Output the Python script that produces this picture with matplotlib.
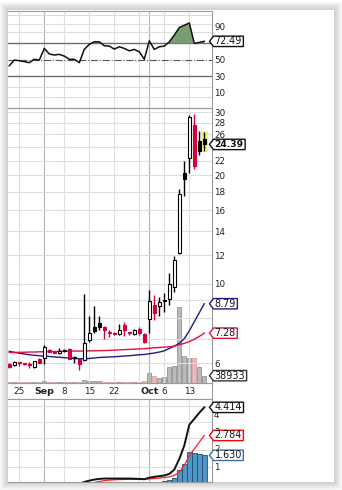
import matplotlib
matplotlib.use("Agg")
import matplotlib.pyplot as plt
import matplotlib.patches as mpatches
from matplotlib.transforms import IdentityTransform
import numpy as np

W, H = 342, 490

# ---------------- data ----------------
date_ticks = [2, 7, 11, 16, 21, 28, 31, 36]
date_labels = ['25', 'Sep', '8', '15', '22', 'Oct', '6', '13']
grid_days = [2, 7, 11, 16, 21, 26, 28, 31, 36]
month_days = [7, 28]

opens = [5.98, 5.94, 6.03, 6.00, 5.97, 5.86, 6.17, 6.20, 6.55, 6.47,
         6.42, 6.50, 6.58, 6.20, 6.17, 6.13, 6.95, 7.55, 7.78, 7.57,
         7.35, 7.30, 7.25, 7.68, 7.30, 7.25, 7.50, 7.25, 7.95, 8.70,
         8.65, 9.00, 9.05, 9.80, 12.20, 20.30, 22.30, 27.60, 25.00, 25.30]
highs = [6.02, 6.10, 6.05, 6.02, 6.05, 6.10, 6.19, 6.75, 6.56, 6.48,
         6.60, 6.56, 6.60, 6.30, 6.18, 9.38, 8.10, 8.65, 8.10, 7.60,
         7.45, 7.35, 7.70, 7.80, 7.35, 7.50, 7.55, 7.30, 9.60, 9.30,
         9.20, 9.40, 10.70, 11.95, 18.30, 21.90, 29.40, 29.70, 26.60, 26.40]
lows = [5.84, 5.90, 5.88, 5.95, 5.82, 5.83, 6.00, 5.98, 6.45, 6.42,
        6.35, 6.45, 6.15, 6.00, 5.76, 6.10, 6.90, 7.30, 7.45, 7.02,
        7.10, 7.20, 7.20, 7.15, 7.20, 7.20, 7.20, 6.85, 7.30, 7.90,
        8.14, 8.35, 8.70, 9.50, 12.10, 17.50, 20.30, 20.80, 22.80, 23.40]
closes = [5.86, 6.06, 6.00, 5.97, 5.95, 6.09, 6.03, 6.66, 6.47, 6.43,
          6.50, 6.52, 6.18, 6.22, 5.98, 6.85, 7.30, 7.40, 7.58, 7.42,
          7.30, 7.26, 7.45, 7.43, 7.28, 7.45, 7.30, 6.90, 8.95, 8.30,
          8.90, 8.95, 9.95, 11.60, 17.70, 19.60, 29.00, 21.30, 23.40, 24.39]
prev_close = 6.00

sma_fast = [6.48, 6.44, 6.40, 6.37, 6.34, 6.32, 6.30, 6.28, 6.27, 6.25,
            6.24, 6.22, 6.21, 6.19, 6.18, 6.18, 6.19, 6.21, 6.23, 6.24,
            6.25, 6.26, 6.27, 6.29, 6.30, 6.32, 6.34, 6.35, 6.38, 6.41,
            6.45, 6.50, 6.60, 6.70, 6.82, 7.03, 7.39, 7.83, 8.30, 8.79]
sma_slow = [6.43, 6.43, 6.44, 6.44, 6.45, 6.45, 6.46, 6.46, 6.47, 6.47,
            6.48, 6.48, 6.49, 6.49, 6.49, 6.50, 6.50, 6.50, 6.51, 6.51,
            6.52, 6.53, 6.54, 6.55, 6.56, 6.57, 6.58, 6.59, 6.61, 6.63,
            6.64, 6.66, 6.67, 6.70, 6.76, 6.82, 6.90, 7.00, 7.13, 7.28]
volume = [6000, 5000, 4000, 5000, 4000, 6000, 5000, 9000, 6000, 4000,
          5000, 4000, 6000, 5000, 7000, 14000, 12000, 10000, 8000, 7000,
          6000, 5000, 6000, 6000, 5000, 5000, 6000, 8000, 52000, 36000,
          25000, 32000, 85000, 92000, 405000, 142000, 132000, 132000, 84000, 38933]

rsi = [42.9, 49.8, 49.0, 47.8, 46.6, 50.7, 49.8, 63.9, 57.1, 55.9,
       56.7, 54.6, 50.7, 50.7, 46.6, 62.7, 68.8, 71.9, 71.9, 67.1,
       66.7, 63.1, 65.9, 63.9, 61.0, 62.7, 59.8, 50.7, 73.1, 62.7,
       65.9, 66.7, 71.9, 80.0, 89.3, 92.0, 94.8, 70.0, 71.2, 72.49]

macd = [-0.16, -0.15, -0.15, -0.14, -0.14, -0.13, -0.13, -0.11, -0.10, -0.09,
        -0.08, -0.07, -0.07, -0.06, -0.02, 0.08, 0.16, 0.22, 0.26, 0.28,
        0.28, 0.28, 0.28, 0.28, 0.28, 0.27, 0.26, 0.24, 0.33, 0.38,
        0.42, 0.46, 0.55, 0.80, 1.42, 2.20, 3.40, 3.75, 4.10, 4.414]
signal = [-0.12, -0.12, -0.13, -0.13, -0.13, -0.13, -0.13, -0.13, -0.12, -0.12,
          -0.11, -0.10, -0.10, -0.09, -0.08, -0.06, -0.02, 0.05, 0.11, 0.16,
          0.19, 0.21, 0.22, 0.23, 0.24, 0.24, 0.24, 0.24, 0.26, 0.28,
          0.31, 0.34, 0.38, 0.46, 0.66, 1.05, 1.60, 2.00, 2.40, 2.784]
hist = [-0.04, -0.03, -0.02, -0.01, -0.01, -0.01, -0.02, -0.02, -0.02, -0.03,
        -0.03, -0.03, -0.03, -0.03, -0.02, 0.02, 0.05, 0.06, 0.06, 0.05,
        0.04, 0.03, 0.03, 0.02, 0.02, 0.01, 0.01, 0.00, 0.02, 0.04,
        0.08, 0.12, 0.17, 0.34, 0.76, 1.15, 1.80, 1.75, 1.70, 1.630]

price_ticks = [6, 7, 8, 9, 10, 12, 14, 16, 18, 20, 22, 24, 26, 28, 30]
price_labels = ['6', '', '', '', '10', '12', '14', '16', '18', '20', '22', '', '26', '28', '30']

# ---------------- colours ----------------
RED = '#d4003c'
GRID = '#dedede'
MONTH = '#b4b4b4'
SPINE = '#9a9a9a'

fig = plt.figure(figsize=(W / 100, H / 100), dpi=100)
fig.patch.set_facecolor('white')

# card with a soft shadow
for k in range(8, 0, -1):
    fig.patches.append(mpatches.Rectangle(((8 - k) / W, 1 - (482 + k) / H),
                                          (326 + 2 * k) / W, (472 + 2 * k) / H,
                                          transform=fig.transFigure, facecolor='#707070',
                                          alpha=0.045, edgecolor='none', zorder=-5))
fig.patches.append(mpatches.Rectangle((8 / W, 1 - 482 / H), 326 / W, 472 / H,
                                      transform=fig.transFigure, facecolor='white',
                                      edgecolor='none', zorder=-4))


def px_axes(x0, y0, x1, y1):
    return fig.add_axes([x0 / W, 1 - y1 / H, (x1 - x0) / W, (y1 - y0) / H])


ax_r = px_axes(8, 11, 212, 108)
ax_p = px_axes(8, 108, 212, 383)
ax_d = px_axes(8, 383, 212, 399)
ax_m = px_axes(8, 399, 212, 482)

x = np.arange(len(closes))
xlim = (-0.26, 40.54)

# volume lives on a twin of the price panel, drawn underneath it
axv = ax_p.twinx()
axv.set_ylim(0, 1.461e6)
axv.axis('off')
ax_p.set_zorder(axv.get_zorder() + 1)
ax_p.patch.set_visible(False)


def style(ax):
    ax.set_xlim(*xlim)
    for s in ax.spines.values():
        s.set_color(SPINE)
        s.set_linewidth(0.8)
    ax.spines['left'].set_visible(False)
    ax.tick_params(axis='x', bottom=False, labelbottom=False)
    ax.yaxis.tick_right()
    ax.tick_params(axis='y', which='both', left=False, labelleft=False,
                   right=True, labelright=True, length=0, pad=1.5,
                   labelsize=6.3, labelcolor='#222222')


for ax in (ax_r, ax_p, ax_d, ax_m):
    style(ax)
axv.set_xlim(*xlim)

for ax in (ax_r, ax_p, ax_m):
    for d in grid_days:
        ax.axvline(d, color=MONTH if d in month_days else GRID, lw=0.8, zorder=0)

# ---- RSI ----
ax_r.set_ylim(-8.4, 109.3)
for v in [104, 94, 84, 17.6, 5.5]:
    ax_r.axhline(v, color=GRID, lw=0.8, zorder=0)
ax_r.axhline(70, color='#6e6e6e', lw=1.0, zorder=1)
ax_r.axhline(30, color='#6e6e6e', lw=1.0, zorder=1)
ax_r.axhline(50, color='#555555', lw=0.8, ls='-.', zorder=1)
rsi_arr = np.array(rsi)
ax_r.fill_between(x, rsi_arr, 70, where=rsi_arr > 70, interpolate=True,
                  facecolor='#7a9c72', edgecolor='none', zorder=2)
ax_r.plot(x, rsi_arr, color='#111111', lw=1.1, zorder=3)
ax_r.set_yticks([10, 30, 50, 90])
ax_r.set_yticklabels(['10', '30', '50', '90'])

# ---- price ----
ax_p.set_yscale('log')
ax_p.set_ylim(5.29, 30.8)
ax_p.yaxis.set_minor_locator(matplotlib.ticker.NullLocator())
ax_p.yaxis.set_minor_formatter(matplotlib.ticker.NullFormatter())
ax_p.set_yticks(price_ticks)
ax_p.set_yticklabels(price_labels)
for v in price_ticks:
    ax_p.axhline(v, color=GRID, lw=0.8, zorder=0)

pc = [prev_close] + closes[:-1]
up = [c >= p for c, p in zip(closes, pc)]
axv.bar(x, volume, width=0.86,
        color=['#b4b4b4' if u else '#eab2b8' for u in up],
        edgecolor=['#8c8c8c' if u else '#d49aa0' for u in up], lw=0.6, alpha=0.9)

ax_p.add_patch(mpatches.Rectangle((38.34, 23.2), 1.34, 26.6 - 23.2,
                                  facecolor='#f6f271', edgecolor='none', zorder=2))
ax_p.plot(x, sma_fast, color='#1c1c8a', lw=1.0, zorder=3)
ax_p.plot(x, sma_slow, color='#e0103a', lw=1.0, zorder=3)

for i in x:
    o, h, l, c = opens[i], highs[i], lows[i], closes[i]
    col = 'black' if up[i] else RED
    ax_p.vlines(i, l, h, color=col, lw=1.0, zorder=4)
    body = max(abs(c - o), c * 0.006)
    ax_p.bar(i, body, bottom=min(o, c), width=0.68,
             facecolor='white' if c > o else col, edgecolor=col, lw=0.8, zorder=5)

# ---- date strip ----
ax_d.set_ylim(0, 1)
ax_d.set_yticks([])
ax_d.spines['top'].set_linestyle(':')
ax_d.spines['bottom'].set_linestyle(':')
for d, lab in zip(date_ticks, date_labels):
    bold = lab in ('Sep', 'Oct')
    ax_d.text(d, 0.45, lab, ha='center', va='center', fontsize=6.8 if bold else 6.4,
              fontweight='bold' if bold else 'normal', color='#222222')

# ---- MACD ----
ax_m.set_ylim(0.08, 4.9)
for v in [0.96, 1.92, 2.61, 3.55, 4.52]:
    ax_m.axhline(v, color=GRID, lw=0.8, zorder=0)
ax_m.bar(x, hist, width=1.0, color='#4f97c7', edgecolor='#1f4f7a', lw=0.6, zorder=2)
ax_m.plot(x, signal, color='#ff2020', lw=0.9, zorder=3)
ax_m.plot(x, macd, color='#111111', lw=1.4, zorder=4)
ax_m.set_yticks([1, 2, 3, 4])
ax_m.set_yticklabels(['1', '2', '3', '4'])

# ---- value tags on the right ----
tags = [(ax_r, 72.49, '72.49', '#111111', False),
        (ax_p, 24.39, '24.39', '#111111', True),
        (ax_p, 8.79, '8.79', '#1c1c8a', False),
        (ax_p, 7.28, '7.28', '#e0103a', False),
        (axv, 38933, '38933', '#333333', False),
        (ax_m, 4.414, '4.414', '#111111', False),
        (ax_m, 2.784, '2.784', '#ff0000', False),
        (ax_m, 1.630, '1.630', '#3a6ea5', False)]

texts = []
for ax, val, txt, col, bold in tags:
    _, yd = ax.transData.transform((0, val))
    xr = ax.transAxes.transform((1, 0))[0]
    t = fig.text((xr + 2.5) / W, yd / H, txt, ha='left', va='center',
                 fontsize=6.9 if not bold else 6.6, fontweight='bold' if bold else 'normal',
                 color='#111111', zorder=11)
    texts.append((t, xr, yd, col))

fig.canvas.draw()
r = fig.canvas.get_renderer()
for t, xr, yd, col in texts:
    bb = t.get_window_extent(r)
    x0, x1 = xr + 1.5, bb.x1 + 1.5
    y0, y1 = yd - 5.2, yd + 5.2
    poly = mpatches.Polygon([(x0 - 4, yd), (x0, y1), (x1, y1), (x1, y0), (x0, y0)],
                            closed=True, facecolor='white', edgecolor=col, lw=1.0,
                            transform=IdentityTransform(), zorder=10)
    fig.patches.append(poly)

fig.savefig('out.png', dpi=100)
